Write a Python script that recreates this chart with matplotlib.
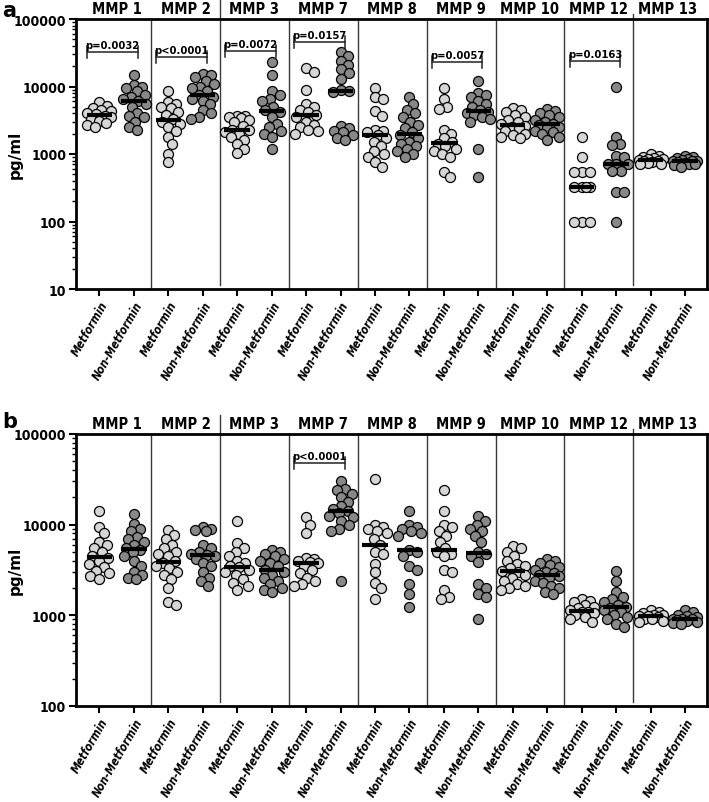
import numpy as np
import matplotlib.pyplot as plt
from matplotlib import font_manager
from matplotlib.ticker import LogLocator, FuncFormatter, NullFormatter

mmp = ['MMP 1', 'MMP 2', 'MMP 3', 'MMP 7', 'MMP 8', 'MMP 9', 'MMP 10', 'MMP 12', 'MMP 13']
groups = ['Metformin', 'Non-Metformin']

# panel a (pg/ml), one list per MMP
a_metformin = [
    [5800, 5200, 4800, 4500, 4300, 4000, 3900, 3700, 3500, 3300, 3100, 2900, 2700, 2500],
    [8500, 5800, 5500, 5000, 4800, 4200, 3800, 3300, 3000, 2800, 2500, 2200, 1800, 1400, 1000, 750],
    [3700, 3600, 3500, 3400, 3200, 3000, 2600, 2300, 2250, 2100, 2000, 1800, 1600, 1400, 1200, 1050],
    [18500, 16500, 9000, 5500, 5000, 4500, 4200, 3800, 3500, 3000, 2700, 2500, 2300, 2200, 2000],
    [9500, 7000, 6500, 4300, 3700, 2300, 2200, 2100, 1900, 1700, 1500, 1300, 1100, 1000, 900, 750, 650],
    [9500, 6500, 5000, 4700, 2300, 2000, 1700, 1500, 1400, 1300, 1200, 1100, 1000, 900, 550, 450],
    [4800, 4500, 4200, 3800, 3500, 3200, 3000, 2800, 2600, 2500, 2400, 2200, 2000, 1900, 1800, 1700],
    [1800, 900, 550, 550, 550, 320, 320, 320, 320, 100, 100, 100],
    [1000, 950, 900, 880, 850, 830, 820, 800, 780, 760, 740, 720, 700],
]
a_non_metformin = [
    [15000, 10500, 10000, 9500, 8500, 7500, 7000, 6500, 6000, 5500, 5000, 4000, 3700, 3500, 3000, 2500, 2300],
    [15500, 15000, 14000, 12000, 11000, 10000, 9500, 8500, 7600, 7000, 6500, 6000, 5500, 4500, 4000, 3500, 3300],
    [23000, 15000, 8500, 7500, 6500, 6000, 5000, 4500, 4200, 3500, 2800, 2500, 2200, 2000, 1800, 1200],
    [32000, 28000, 24000, 21000, 18000, 16000, 13000, 9000, 8500, 8300, 2600, 2400, 2200, 2100, 1900, 1700, 1600],
    [7000, 5500, 4500, 4000, 3500, 3000, 2700, 2400, 2100, 1900, 1700, 1500, 1400, 1300, 1200, 1100, 1000, 900],
    [12000, 8000, 7500, 7000, 6000, 5500, 5000, 4500, 4200, 4000, 3800, 3500, 3300, 3000, 1200, 450],
    [4700, 4300, 4000, 3800, 3500, 3200, 3000, 2800, 2700, 2500, 2400, 2200, 2100, 2000, 1800, 1600],
    [10000, 1800, 1400, 1350, 950, 900, 700, 700, 700, 560, 560, 270, 270, 100],
    [950, 900, 870, 840, 820, 800, 790, 780, 760, 740, 720, 700, 680, 650],
]

# panel b (pg/ml)
b_metformin = [
    [14000, 9500, 8000, 6500, 6000, 5500, 5000, 4500, 4300, 4000, 3700, 3400, 3100, 2900, 2700, 2500],
    [8700, 7600, 7000, 6000, 5500, 5000, 4800, 4500, 4000, 3800, 3500, 3300, 3000, 2800, 2500, 2000, 1400, 1300],
    [11000, 6200, 5500, 5000, 4500, 4000, 3800, 3500, 3400, 3200, 3000, 2800, 2500, 2300, 2100, 1900],
    [12000, 10000, 8000, 4300, 4200, 4000, 3900, 3800, 3500, 3200, 2900, 2600, 2400, 2200, 2100],
    [32000, 10000, 9500, 9000, 8500, 8000, 7000, 6000, 5000, 4800, 3700, 3000, 2300, 2000, 1500],
    [24000, 14000, 10000, 9500, 8500, 7500, 6500, 5500, 5000, 4800, 4500, 3200, 3000, 1900, 1600, 1500],
    [5800, 5500, 5000, 4500, 4000, 3700, 3500, 3300, 3100, 3000, 2800, 2600, 2400, 2200, 2100, 2000, 1900],
    [1500, 1450, 1400, 1300, 1250, 1200, 1150, 1100, 1100, 1050, 1000, 950, 900, 850],
    [1150, 1100, 1050, 1020, 1000, 990, 980, 950, 920, 900, 870, 840],
]
b_non_metformin = [
    [13000, 10300, 9000, 8500, 7400, 7000, 6500, 6000, 5500, 5200, 5000, 4500, 4000, 3500, 3000, 2800, 2600, 2500],
    [9500, 9000, 8800, 8500, 6000, 5500, 5000, 4800, 4600, 4500, 4200, 3800, 3500, 3000, 2600, 2400, 2100],
    [5200, 5000, 4700, 4500, 4200, 4000, 3800, 3500, 3200, 3000, 2800, 2600, 2400, 2200, 2000, 1900, 1800],
    [30000, 25000, 24000, 22000, 20000, 18000, 16000, 15000, 14000, 13400, 12500, 12000, 11000, 10000, 9000, 8500, 2400],
    [14000, 10000, 9500, 9000, 8500, 8000, 7500, 5200, 5000, 4500, 3500, 3200, 2200, 1700, 1250],
    [12500, 11000, 10000, 9000, 8500, 7500, 6500, 5000, 4800, 4500, 3900, 2200, 2000, 1700, 1600, 900],
    [4200, 4000, 3800, 3600, 3400, 3200, 3000, 2900, 2800, 2700, 2600, 2400, 2300, 2100, 2000, 1800, 1700],
    [3100, 2400, 1800, 1600, 1500, 1400, 1300, 1250, 1200, 1150, 1100, 1000, 950, 900, 800, 750],
    [1150, 1080, 1020, 980, 950, 920, 910, 900, 880, 860, 840, 820, 800],
]

a_p_mmp = ['MMP 1', 'MMP 2', 'MMP 3', 'MMP 7', 'MMP 9', 'MMP 12']
a_p_text = ['p=0.0032', 'p<0.0001', 'p=0.0072', 'p=0.0157', 'p=0.0057', 'p=0.0163']
b_p_mmp = ['MMP 7']
b_p_text = ['p<0.0001']

# bracket heights (axes fraction), layout only
a_p_height = [0.878, 0.859, 0.881, 0.915, 0.841, 0.844]
b_p_height = [0.893]

# condensed face if the system has one
_names = {f.name for f in font_manager.fontManager.ttflist}
_cond = [f for f in font_manager.fontManager.ttflist
         if f.name == 'DejaVu Sans' and 'ondensed' in f.fname]
if 'Liberation Sans Narrow' in _names:
    NARROW = dict(family=['Liberation Sans Narrow', 'DejaVu Sans'])
elif _cond:
    NARROW = dict(family=['DejaVu Sans'], fontstretch='condensed')
else:
    NARROW = dict(family=['Liberation Sans', 'DejaVu Sans'])

LIGHT = '#d6d6d6'
DARK = '#888888'


def swarm(ax, x, vals, diam=8.0, wmax=12):
    vals = np.asarray(vals, dtype=float)
    disp = ax.transData.transform(np.column_stack([np.full(len(vals), x), vals]))
    ys = disp[:, 1]
    cand = [0]
    for k in range(1, wmax + 1):
        cand += [k, -k]
    px, py = [], []
    offs = np.zeros(len(vals))
    for i in np.argsort(-ys):
        best, best_gap = 0, -1.0
        for c in cand:
            if px:
                gap = np.min(np.hypot(np.array(px) - c, np.array(py) - ys[i]))
            else:
                gap = 1e9
            if gap >= diam:
                best = c
                break
            if gap > best_gap:
                best, best_gap = c, gap
        offs[i] = best
        px.append(best)
        py.append(ys[i])
    back = ax.transData.inverted().transform(np.column_stack([disp[:, 0] + offs, ys]))
    return back[:, 0], vals


def draw_panel(ax, met, non, ylim, p_mmp, p_text, p_height):
    ax.set_yscale('log')
    ax.set_ylim(*ylim)
    ax.set_xlim(-0.68, 17.64)
    ax.yaxis.set_major_locator(LogLocator(base=10, numticks=10))
    ax.yaxis.set_minor_locator(LogLocator(base=10, subs=np.arange(2, 10), numticks=10))
    ax.yaxis.set_major_formatter(FuncFormatter(lambda v, p: '%d' % round(v)))
    ax.yaxis.set_minor_formatter(NullFormatter())

    for g in range(len(mmp)):
        for k, (data, col) in enumerate([(met[g], LIGHT), (non[g], DARK)]):
            xc = 2 * g + k
            xs, ys = swarm(ax, xc, data)
            ax.scatter(xs, ys, s=52, facecolor=col, edgecolor='black', linewidth=0.9, zorder=3)
            med = np.median(data)
            ax.plot([xc - 0.37, xc + 0.37], [med, med], color='black', lw=3,
                    solid_capstyle='butt', zorder=4)

    # group dividers
    xt = ax.get_xaxis_transform()
    for g in range(len(mmp) - 1):
        xd = 2 * g + 1.5
        if g == 1:
            lo, hi = 0.015, 1.07
        elif g == 7:
            lo, hi = 0.015, 1.02
        else:
            lo, hi = 0.0, 1.0
        ax.plot([xd, xd], [lo, hi], transform=xt, color='#3a3a3a', lw=1, clip_on=False, zorder=2)

    for g, name in enumerate(mmp):
        ax.text(2 * g + 0.5, 1.01, name, transform=xt, ha='center', va='bottom',
                fontsize=10.5, fontweight='bold', **NARROW)

    for name, txt, h in zip(p_mmp, p_text, p_height):
        g = mmp.index(name)
        xl, xr = 2 * g - 0.35, 2 * g + 1.12
        e = 6.0 / (ax.bbox.height)
        ax.plot([xl, xr], [h, h], transform=xt, color='#222222', lw=1.1, zorder=2)
        ax.plot([xl, xl], [h - e, h + e], transform=xt, color='#222222', lw=1.1, zorder=2)
        ax.plot([xr, xr], [h - e, h + e], transform=xt, color='#222222', lw=1.1, zorder=2)
        ax.text((xl + xr) / 2, h + 0.008, txt, transform=xt, ha='center', va='bottom',
                fontsize=8, fontweight='bold', **NARROW)

    ax.set_xticks(range(2 * len(mmp)))
    ax.set_xticklabels(groups * len(mmp), rotation=60, ha='right', va='top',
                       rotation_mode='anchor', fontsize=8.3, fontweight='bold',
                       fontstyle='italic', **NARROW)
    for lab in ax.get_yticklabels():
        lab.set_fontweight('bold')
        lab.set_fontsize(10)
        lab.set_family(NARROW['family'])
        if 'fontstretch' in NARROW:
            lab.set_fontstretch(NARROW['fontstretch'])
    ax.tick_params(axis='both', which='major', direction='out', length=5, width=1.5, pad=2)
    ax.tick_params(axis='y', which='minor', direction='out', length=3, width=1)
    ax.tick_params(axis='x', which='major', pad=2)
    for sp in ax.spines.values():
        sp.set_linewidth(2)


fig = plt.figure(figsize=(7.09, 8.03), dpi=100)
W, H = 709.0, 803.0
ax_a = fig.add_axes([76 / W, 1 - 290 / H, (707 - 76) / W, (290 - 20) / H])
ax_b = fig.add_axes([76 / W, 1 - 707 / H, (707 - 76) / W, (707 - 435) / H])

draw_panel(ax_a, a_metformin, a_non_metformin, (10, 100000), a_p_mmp, a_p_text, a_p_height)
draw_panel(ax_b, b_metformin, b_non_metformin, (100, 100000), b_p_mmp, b_p_text, b_p_height)

fig.text(15 / W, 1 - 155 / H, 'pg/ml', fontsize=11, fontweight='bold', rotation=90,
         ha='center', va='center')
fig.text(15 / W, 1 - 571 / H, 'pg/ml', fontsize=11, fontweight='bold', rotation=90,
         ha='center', va='center')

fig.text(2 / W, 1 - 1 / H, 'a', fontsize=15, fontweight='bold', va='top', ha='left')
fig.text(2 / W, 1 - 412 / H, 'b', fontsize=15, fontweight='bold', va='top', ha='left')

fig.savefig('out.png', dpi=100)
